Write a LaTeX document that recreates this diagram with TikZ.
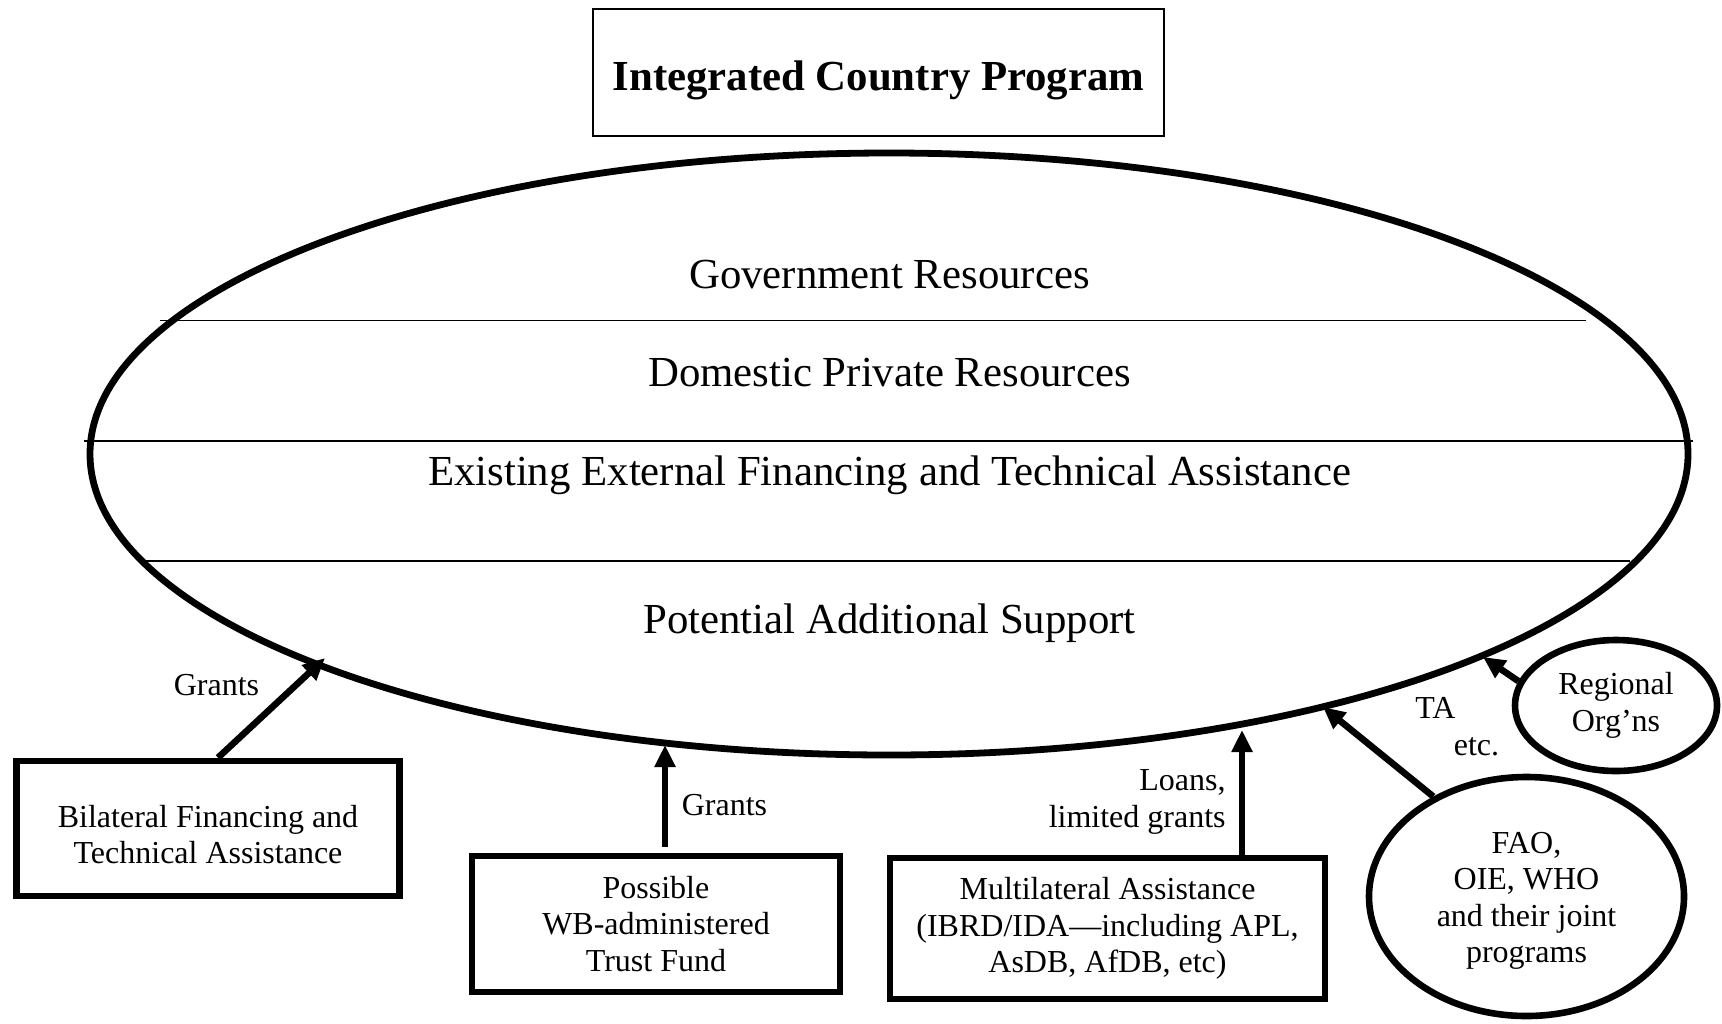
\documentclass[tikz,border=0pt]{standalone}
\usepackage{fontspec}
\setmainfont{Liberation Serif}
\usetikzlibrary{arrows.meta,shapes.geometric}

\begin{document}
\begin{tikzpicture}[x=0.5pt,y=-0.5pt,
  big/.style={font=\fontsize{21.4}{24}\selectfont, inner sep=0pt},
  small/.style={font=\fontsize{16}{18.3}\selectfont, align=center, inner sep=0pt},
  box/.style={draw, line width=3.3pt, small},
  oval/.style={ellipse, draw, line width=3.3pt, small},
  flow/.style={line width=3.3pt, -{Triangle[length=11pt,width=10pt]}},
  band/.style={line width=0.8pt}]
  \useasboundingbox (0,0) rectangle (1722,1023);
  \node[draw, line width=0.75pt, minimum width=285.5pt, minimum height=63.6pt, font=\fontsize{21.4}{24}\selectfont\bfseries, text height=17.5pt, text depth=0pt] (title) at (878.5,72.5) {Integrated Country Program};
  % the pool of resources
  \node[ellipse, draw, line width=3.4pt, minimum width=799pt, minimum height=301pt, inner sep=0pt] (pool) at (889,454) {};
  \draw[band] (160,320.5) -- (1586,320.5);
  \draw[band] (84,441) -- (1693,441);
  \draw[band] (140.6,560.7) -- (1630,560.7);
  \node[big, anchor=base] (gov) at (889.5,288.3) {Government Resources};
  \node[big, anchor=base] (dom) at (889.5,386.7) {Domestic Private Resources};
  \node[big, anchor=base] (ext) at (889.5,485) {Existing External Financing and Technical Assistance};
  \node[big, anchor=base] (pot) at (889.5,633.3) {Potential Additional Support};
  % sources
  \node[box, minimum width=191.75pt, minimum height=67.5pt] (bilat) at (208,828.5) {\rule{0pt}{17pt}Bilateral Financing and\\Technical Assistance};
  \node[box, minimum width=184pt, minimum height=68pt] (trust) at (656,924) {Possible\\WB-administered\\Trust Fund};
  \node[box, minimum width=217.5pt, minimum height=70.5pt] (multi) at (1107.5,928.5) {Multilateral Assistance\\(IBRD/IDA—including APL,\\AsDB, AfDB, etc)};
  \node[oval, minimum width=157.5pt, minimum height=119.5pt] (fao) at (1526.5,896.5) {\rule{0pt}{15pt}FAO,\\OIE, WHO\\and their joint\\programs};
  \node[oval, minimum width=101pt, minimum height=65.5pt] (region) at (1616,705.5) {Regional\\Org’ns};
  \coordinate (inBil) at (325,658);
  \coordinate (inTrust) at (665,745);
  \coordinate (inMulti) at (1242,730);
  \coordinate (inFao) at (1323,707);
  \coordinate (inRegion) at (1483,657);
  \draw[flow] ([xshift=5pt]bilat.north) -- (inBil);
  \draw[flow, shorten <=3pt] ([xshift=4.5pt]trust.north) -- (inTrust);
  \draw[flow] ([xshift=67.25pt]multi.north) -- (inMulti);
  \draw[flow] (fao.133.5) -- (inFao);
  \draw[flow] (region.166.5) -- (inRegion);
  \node[small, anchor=base] (grantsA) at (216.5,695.7) {Grants};
  \node[small, anchor=base] (grantsB) at (724.5,815) {Grants};
  \node[small, align=right, anchor=east] (loans) at (1226,801.8) {Loans,\\limited grants};
  \node[small, anchor=base] (ta) at (1435.5,718) {TA};
  \node[small, anchor=base] (etc) at (1476.5,755) {etc.};
\end{tikzpicture}
\end{document}
